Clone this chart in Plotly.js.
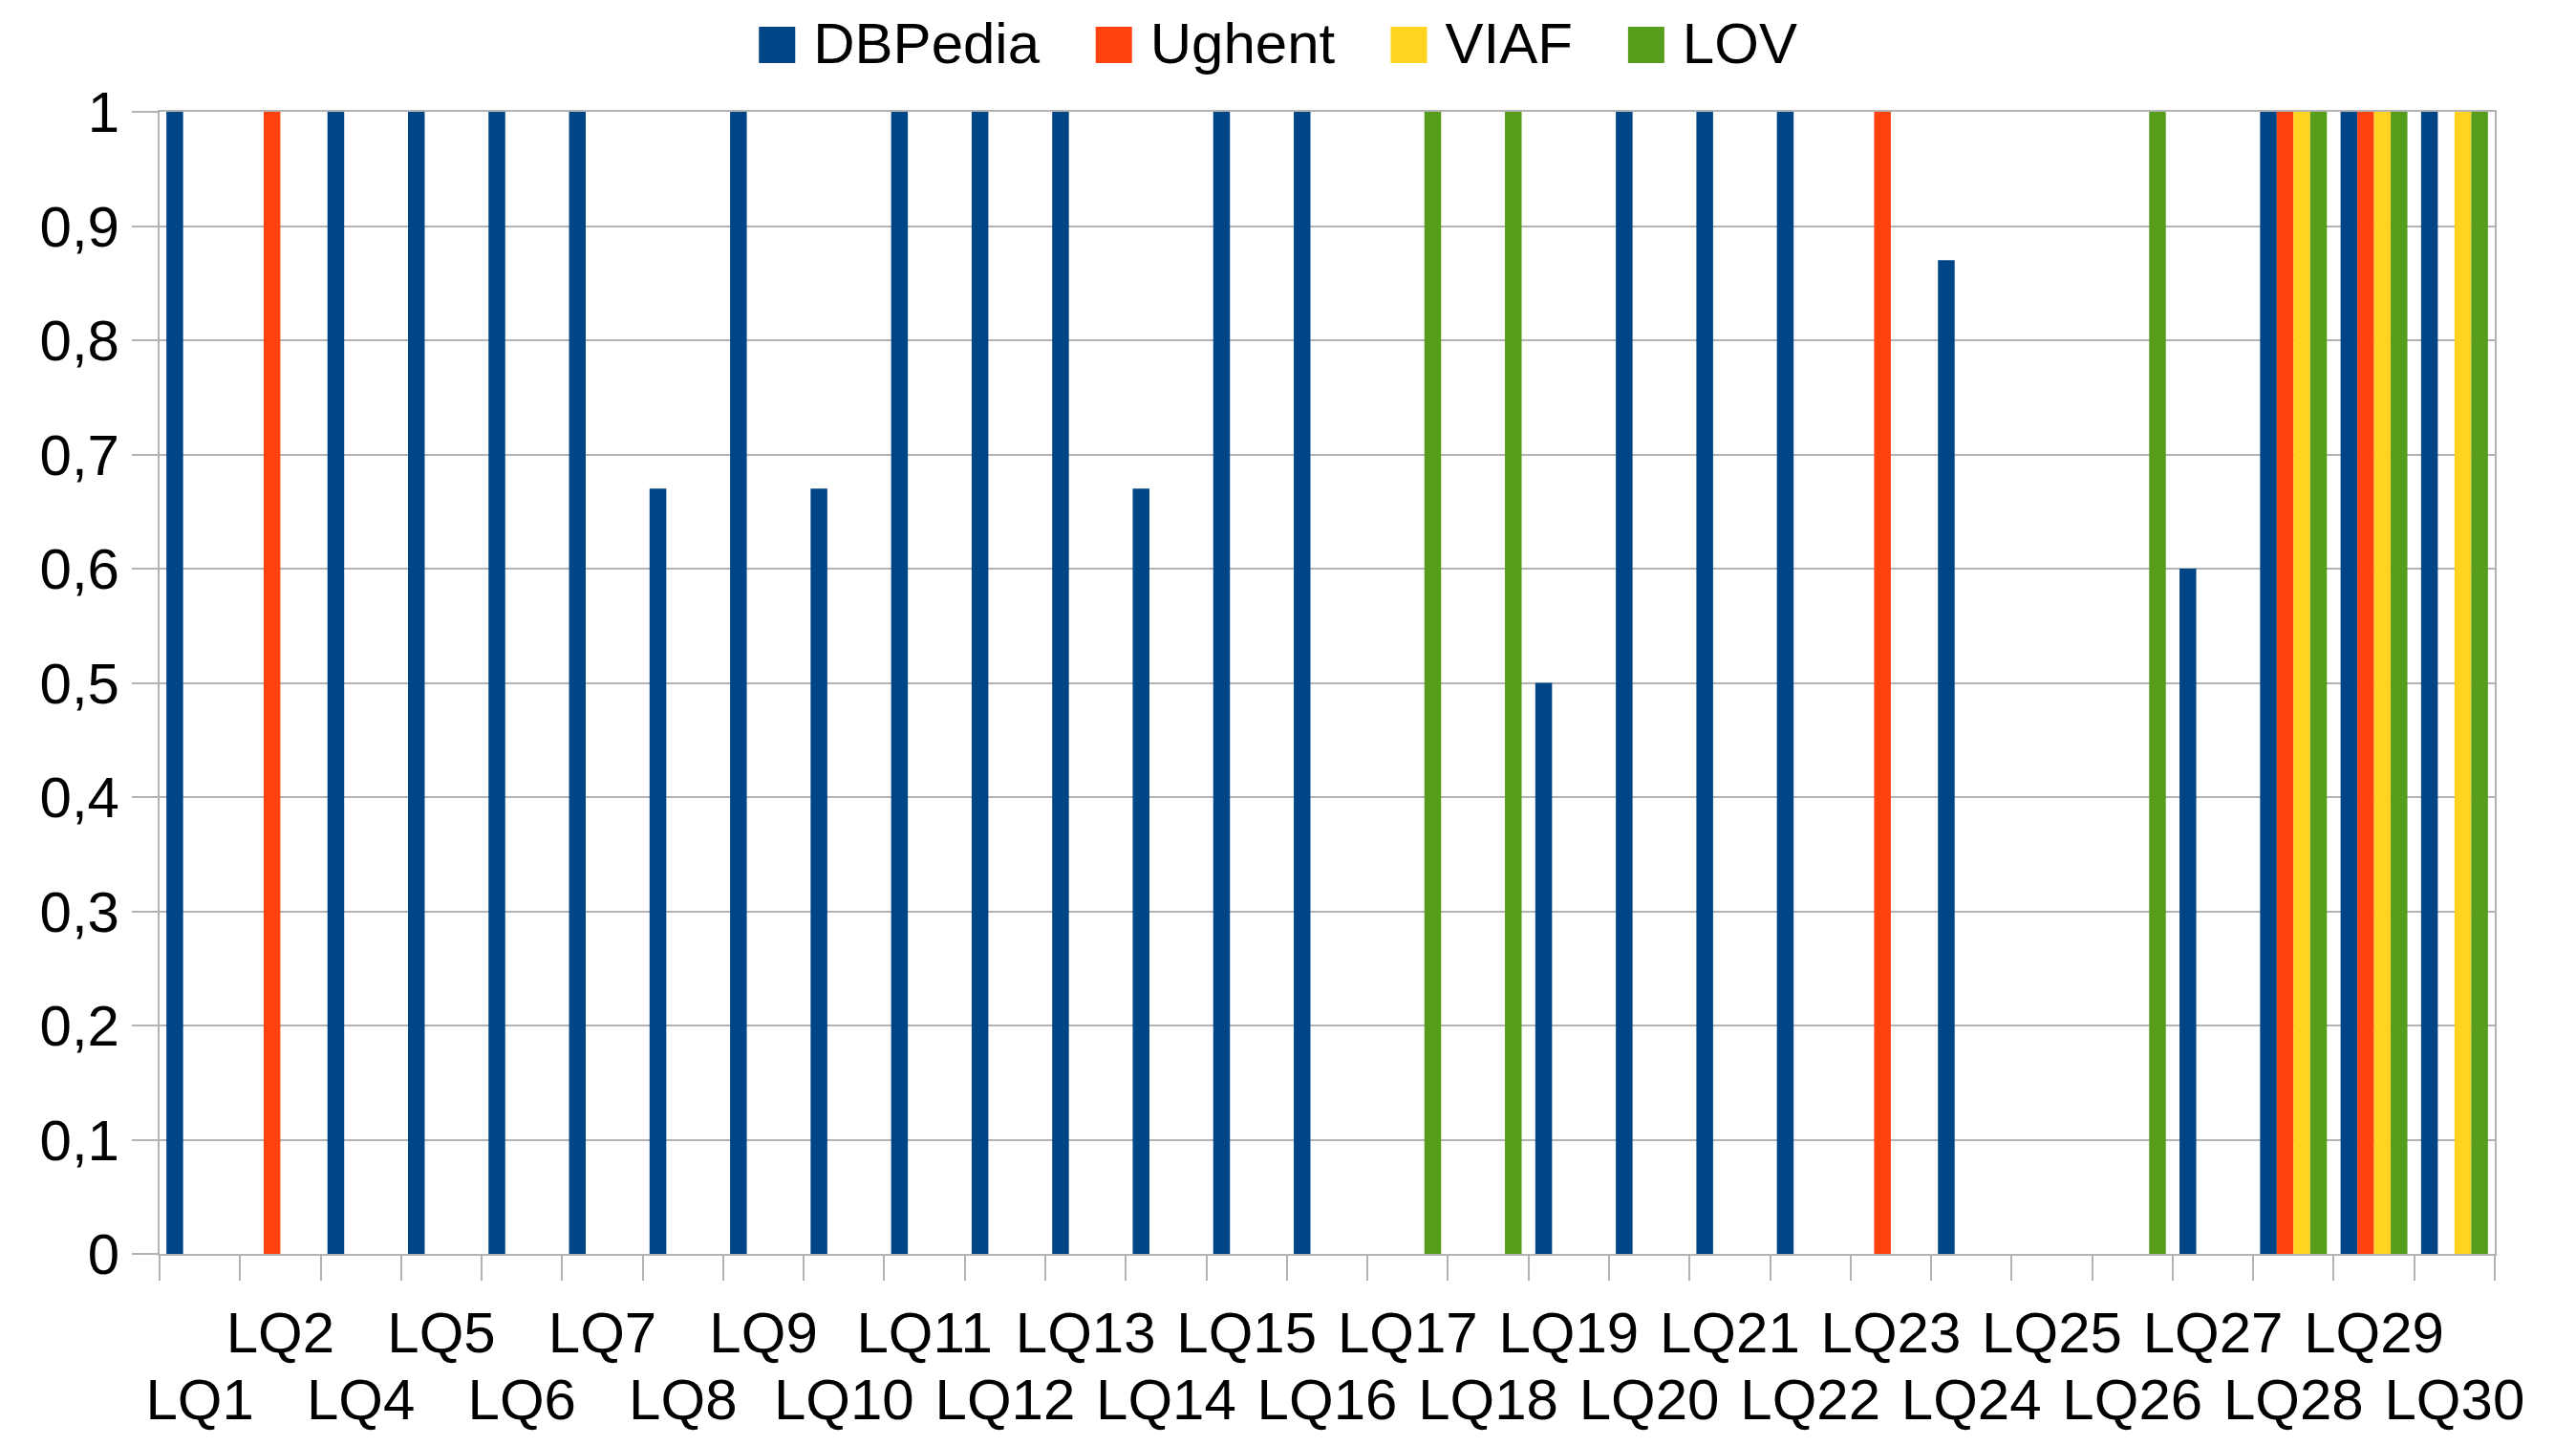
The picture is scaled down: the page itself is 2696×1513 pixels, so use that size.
<!DOCTYPE html>
<html><head><meta charset="utf-8">
<script src="https://cdn.plot.ly/plotly-3.0.1.min.js"></script>
<style>html,body{margin:0;padding:0;background:#fff;} #chart{width:2696px;height:1513px;}</style>
</head><body><div id="chart"></div>
<script>
const categories = ['LQ1','LQ2','LQ4','LQ5','LQ6','LQ7','LQ8','LQ9','LQ10','LQ11','LQ12','LQ13','LQ14','LQ15','LQ16','LQ17','LQ18','LQ19','LQ20','LQ21','LQ22','LQ23','LQ24','LQ25','LQ26','LQ27','LQ28','LQ29','LQ30'];
const dbpedia = [1,0,1,1,1,1,0.67,1,0.67,1,1,1,0.67,1,1,0,0,0.5,1,1,1,0,0.87,0,0,0.6,1,1,1];
const ughent  = [0,1,0,0,0,0,0,0,0,0,0,0,0,0,0,0,0,0,0,0,0,1,0,0,0,0,1,1,0];
const viaf    = [0,0,0,0,0,0,0,0,0,0,0,0,0,0,0,0,0,0,0,0,0,0,0,0,0,0,1,1,1];
const lov     = [0,0,0,0,0,0,0,0,0,0,0,0,0,0,0,1,1,0,0,0,0,0,0,0,1,0,1,1,1];
const seriesNames = ['DBPedia','Ughent','VIAF','LOV'];
const seriesValues = [dbpedia, ughent, viaf, lov];
const seriesColors = ['#004586','#ff420e','#ffd320','#579d1c'];
// staggered category labels: odd positions on the upper row, even positions on the lower row
const upperLabels = categories.map((c,i) => i % 2 ? c : '');
const lowerCats = categories.filter((c,i) => i % 2 === 0);

const FONT = '"Liberation Sans", Arial, sans-serif';
const GRID = '#b3b3b3';
const FS = 60;

const traces = seriesNames.map((name,k) => ({
  type:'bar', name:name, x:categories, y:seriesValues[k],
  marker:{color:seriesColors[k], line:{width:0}},
  hoverinfo:'skip'
}));
// carrier for the lower row of category labels (draws nothing)
traces.push({type:'scatter', mode:'lines', x:categories, y:categories.map(() => null),
             xaxis:'x2', yaxis:'y', showlegend:false, hoverinfo:'skip'});

const catRange = [-0.5, categories.length - 0.5];

const layout = {
  width:2696, height:1513,
  margin:{l:167, r:85, t:117, b:201, pad:0},
  paper_bgcolor:'#ffffff', plot_bgcolor:'#ffffff',
  font:{family:FONT, size:FS, color:'#000000'},
  separators:', ',
  barmode:'group', bargap:0.17, bargroupgap:0,
  showlegend:true,
  legend:{orientation:'h', xref:'container', yref:'container', x:0.4873, xanchor:'center',
          y:1-43/1513, yanchor:'middle', itemwidth:100, font:{size:FS, family:FONT, color:'#000'},
          bgcolor:'rgba(0,0,0,0)', borderwidth:0, traceorder:'normal'},
  xaxis:{type:'category', range:catRange, categoryorder:'array', categoryarray:categories,
         tickmode:'array', tickvals:categories, ticktext:upperLabels,
         tickson:'boundaries', ticks:'outside', ticklen:26, tickwidth:2, tickcolor:GRID,
         showgrid:false, showline:true, mirror:true, linecolor:GRID, linewidth:2, zeroline:false,
         tickangle:0, ticklabelstandoff:29, tickfont:{size:FS}, automargin:false, fixedrange:true},
  xaxis2:{type:'category', overlaying:'x', anchor:'y', side:'bottom', range:catRange,
          categoryorder:'array', categoryarray:categories,
          tickmode:'array', tickvals:lowerCats, ticktext:lowerCats,
          ticks:'', showgrid:false, showline:false, zeroline:false, tickangle:0,
          ticklabelstandoff:112, tickfont:{size:FS}, automargin:false, fixedrange:true},
  yaxis:{range:[0,1], tick0:0, dtick:0.1, ticks:'outside', ticklen:27, tickwidth:2, tickcolor:GRID,
         showgrid:true, gridcolor:GRID, gridwidth:2, showline:true, mirror:true, linecolor:GRID,
         linewidth:2, zeroline:false, ticklabelstandoff:1, tickfont:{size:FS}, automargin:false, fixedrange:true}
};

Plotly.newPlot('chart', traces, layout, {staticPlot:true, displayModeBar:false}).then(gd => {
  const svg = gd.querySelector('svg.main-svg');
  const pt = svg.createSVGPoint();
  const toLocal = (el, x, y) => { pt.x = x; pt.y = y; return pt.matrixTransform(el.getScreenCTM().inverse()); };
  // larger square legend keys placed just before each legend text
  gd.querySelectorAll('.legend .traces').forEach(tr => {
    const text = tr.querySelector('text.legendtext');
    const path = tr.querySelector('.legendpoints path');
    if (!text || !path) return;
    const r = text.getBoundingClientRect();
    const size = 38;
    const right = r.left - 19, left = right - size;
    const cy = (r.top + r.bottom) / 2 + 1;
    const a = toLocal(path, left, cy - size/2), b = toLocal(path, right, cy + size/2);
    path.setAttribute('d', 'M' + a.x + ',' + a.y + 'H' + b.x + 'V' + b.y + 'H' + a.x + 'Z');
    path.style.strokeWidth = '0px';
  });
});
</script>
</body></html>
